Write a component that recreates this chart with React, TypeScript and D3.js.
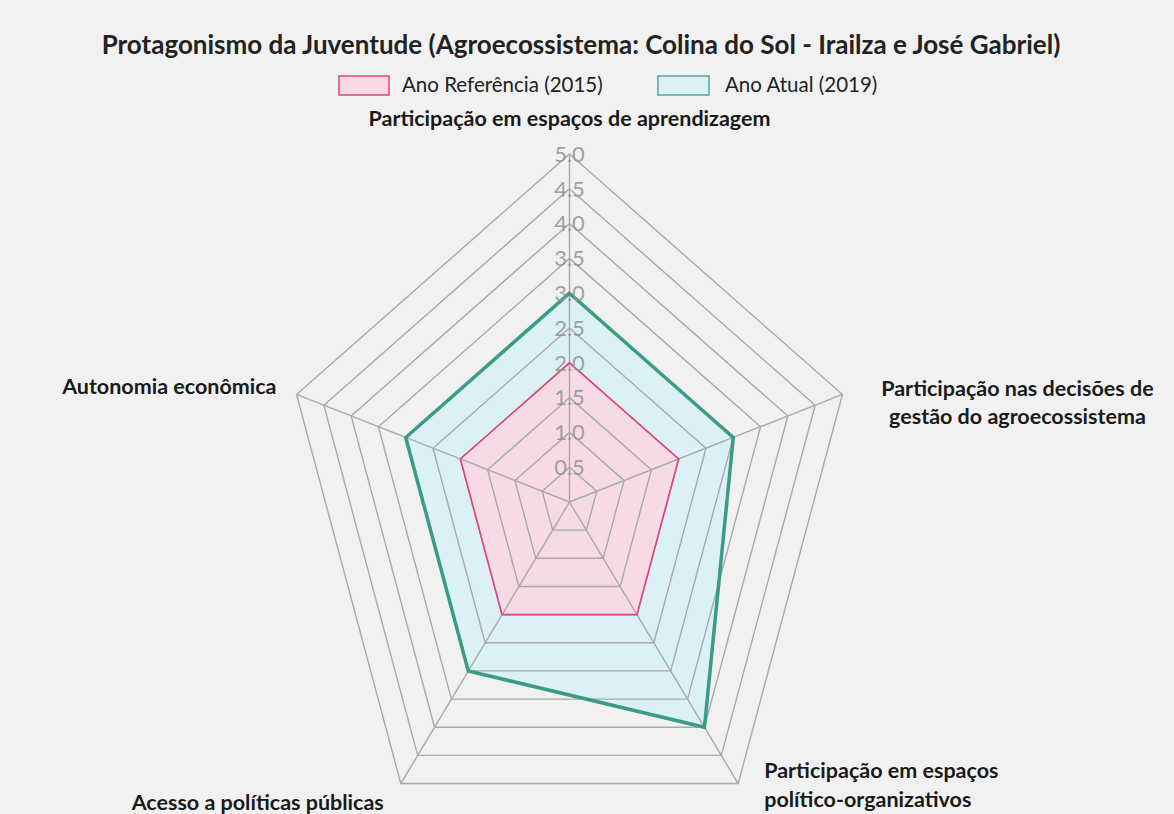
import React from "react";
import * as d3 from "d3";

const title = "Protagonismo da Juventude (Agroecossistema: Colina do Sol - Irailza e José Gabriel)";
const axes = [
  ["Participação em espaços de aprendizagem"],
  ["Participação nas decisões de", "gestão do agroecossistema"],
  ["Participação em espaços", "político-organizativos"],
  ["Acesso a políticas públicas"],
  ["Autonomia econômica"],
];
const seriesNames = ["Ano Referência (2015)", "Ano Atual (2019)"];
const ref2015 = [2, 2, 2, 2, 2];
const atual2019 = [3, 3, 4, 3, 3];
const ticks = [0.5, 1.0, 1.5, 2.0, 2.5, 3.0, 3.5, 4.0, 4.5, 5.0];

const W = 1174, H = 814;
const cx = 569.5, cy = 502, Rx = 287, Ry = 348;
const FONT = "Lato, 'Open Sans', sans-serif";

const pinkStroke = "#e0457b";
const pinkFill = "rgba(250, 214, 226, 0.85)";
const greenStroke = "#3a9c84";
const blueFill = "rgba(218, 240, 246, 0.95)";
const gridColor = "#a9a9a9";

const r = d3.scaleLinear().domain([0, 5]).range([0, 1]);
const angle = d3.scaleLinear().domain([0, axes.length]).range([-Math.PI / 2, (3 * Math.PI) / 2]);
const pt = (i: number, v: number): [number, number] => [
  cx + Rx * r(v) * Math.cos(angle(i)),
  cy + Ry * r(v) * Math.sin(angle(i)),
];
const line = d3.line<[number, number]>().curve(d3.curveLinearClosed);
const poly = (vals: number[]) => line(vals.map((v, i) => pt(i, v))) as string;

// label layout: [dx, dy of first line, anchor]
const labelLayout: [number, number, string][] = [
  [0, -36, "middle"],
  [175, -6, "middle"],
  [26, -13, "start"],
  [-17, 19, "end"],
  [-20, -8, "end"],
];

export default function App() {
  return (
    <div style={{ position: "fixed", left: 0, top: 0 }}>
      <svg width={W} height={H} style={{ display: "block", background: "#f1f1f1" }} fontFamily={FONT}>
        <text x={581} y={45} dy="0.35em" textAnchor="middle" fontSize={26} fontWeight={700} fill="#222">
          {title}
        </text>
        {/* legend */}
        <rect x={339} y={76} width={50} height={19} fill={pinkFill} stroke={pinkStroke} strokeWidth={1.5} />
        <text x={402} y={85} dy="0.35em" fontSize={20.5} fill="#222">{seriesNames[0]}</text>
        <rect x={658} y={76} width={51} height={19} fill={blueFill} stroke="#4aa9a2" strokeWidth={1.5} />
        <text x={725} y={85} dy="0.35em" fontSize={20.5} fill="#222">{seriesNames[1]}</text>

        {/* fills */}
        <path d={poly(atual2019)} fill={blueFill} />
        <path d={poly(ref2015)} fill={pinkFill} />

        {/* grid */}
        {ticks.map((t) => (
          <path key={t} d={poly(axes.map(() => t))} fill="none" stroke={gridColor} strokeWidth={1.4} />
        ))}
        {axes.map((_, i) => {
          const [x, y] = pt(i, 5);
          return <line key={i} x1={cx} y1={cy} x2={x} y2={y} stroke={gridColor} strokeWidth={1.4} />;
        })}

        {/* series lines */}
        <path d={poly(atual2019)} fill="none" stroke={greenStroke} strokeWidth={3.5} strokeLinejoin="miter" />
        <path d={poly(ref2015)} fill="none" stroke={pinkStroke} strokeWidth={1.6} />

        {/* tick labels */}
        {ticks.map((t) => {
          const [x, y] = pt(0, t);
          return (
            <text key={t} x={x} y={y} dy="0.35em" textAnchor="middle" fontSize={22} fill="#959595" fillOpacity={0.9}>
              {d3.format(".1f")(t)}
            </text>
          );
        })}

        {/* axis labels */}
        {axes.map((lines, i) => {
          const [x, y] = pt(i, 5);
          const [dx, dy, anchor] = labelLayout[i];
          return (
            <text key={i} x={x + dx} y={y + dy} textAnchor={anchor as any} fontSize={21.5} fontWeight={700} fill="#1a1a1a">
              {lines.map((l, j) => (
                <tspan key={j} x={x + dx} dy={j === 0 ? "0.35em" : 28.5}>{l}</tspan>
              ))}
            </text>
          );
        })}
      </svg>
    </div>
  );
}
